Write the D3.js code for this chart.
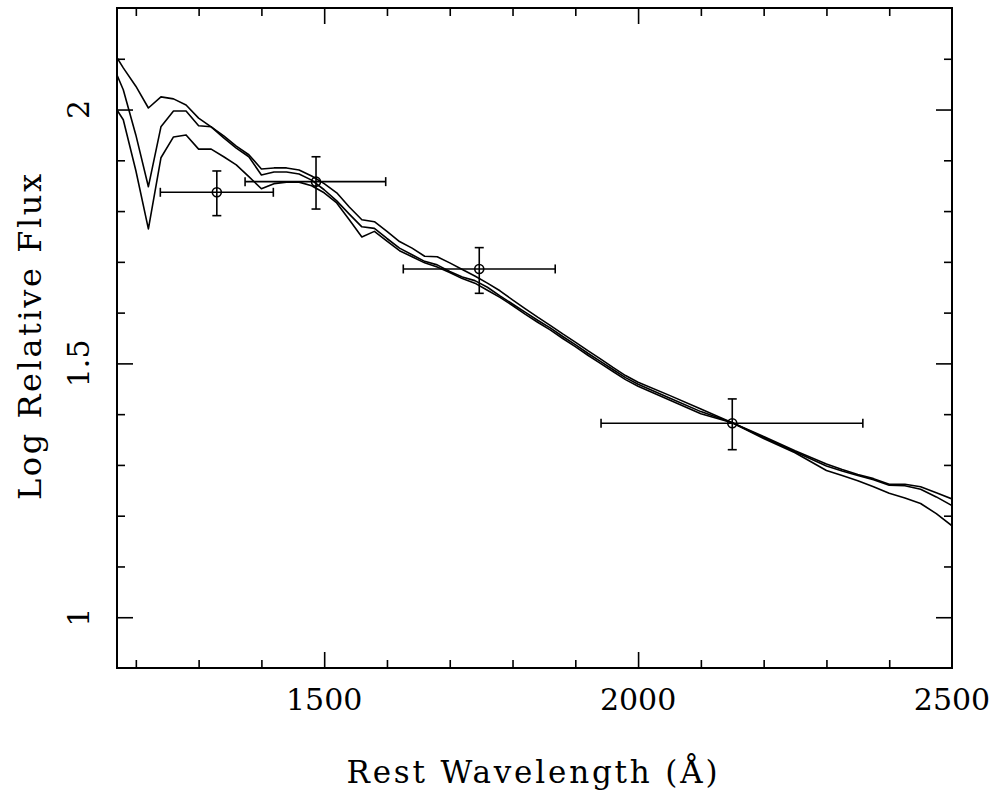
<!DOCTYPE html>
<html>
<head>
<meta charset="utf-8">
<script src="https://d3js.org/d3.v7.min.js"></script>
<style>
  body { margin: 0; background: #fff; }
  svg { display: block; }
  text { font-family: "DejaVu Serif", "Liberation Serif", serif; fill: #000; }
</style>
</head>
<body>
<div id="chart"></div>
<script>
// wavelength grid (Angstrom) shared by the three model curves
const wavelength = [1170, 1180, 1200, 1220, 1240, 1260, 1280, 1300, 1320, 1340, 1360, 1380,
  1400, 1420, 1440, 1460, 1480, 1500, 1520, 1540, 1560, 1580, 1600, 1620, 1640, 1660, 1680,
  1700, 1720, 1740, 1760, 1780, 1800, 1820, 1840, 1860, 1880, 1900, 1920, 1940, 1960, 1980,
  2000, 2050, 2100, 2150, 2200, 2250, 2300, 2325, 2350, 2375, 2400, 2425, 2450, 2475, 2500];

// log relative flux, three model spectra
const modelA = [2.102, 2.082, 2.046, 2.003, 2.025, 2.021, 2.009, 1.983, 1.966, 1.948, 1.928, 1.911,
  1.883, 1.885, 1.885, 1.881, 1.869, 1.854, 1.836, 1.808, 1.783, 1.779, 1.760, 1.740, 1.727, 1.711, 1.710,
  1.698, 1.685, 1.672, 1.658, 1.643, 1.625, 1.608, 1.591, 1.575, 1.558, 1.542, 1.525, 1.509, 1.492, 1.476,
  1.463, 1.437, 1.410, 1.383, 1.356, 1.328, 1.302, 1.291, 1.281, 1.273, 1.262, 1.262, 1.257, 1.245, 1.233];
const modelB = [2.068, 2.039, 1.950, 1.848, 1.966, 1.997, 1.997, 1.968, 1.966, 1.944, 1.924, 1.907,
  1.871, 1.877, 1.877, 1.873, 1.861, 1.842, 1.820, 1.794, 1.769, 1.766, 1.746, 1.727, 1.714, 1.701, 1.694,
  1.681, 1.670, 1.663, 1.650, 1.633, 1.617, 1.601, 1.585, 1.570, 1.553, 1.537, 1.520, 1.504, 1.488, 1.472,
  1.459, 1.432, 1.405, 1.383, 1.354, 1.326, 1.298, 1.288, 1.279, 1.271, 1.260, 1.259, 1.252, 1.237, 1.220];
const modelC = [1.999, 1.980, 1.880, 1.765, 1.905, 1.946, 1.950, 1.922, 1.922, 1.907, 1.891, 1.868,
  1.844, 1.854, 1.857, 1.857, 1.850, 1.836, 1.816, 1.783, 1.749, 1.760, 1.741, 1.722, 1.710, 1.698, 1.690,
  1.679, 1.667, 1.658, 1.644, 1.630, 1.614, 1.597, 1.581, 1.566, 1.549, 1.533, 1.516, 1.500, 1.484, 1.468,
  1.455, 1.428, 1.401, 1.383, 1.352, 1.324, 1.289, 1.279, 1.269, 1.257, 1.244, 1.235, 1.224, 1.204, 1.180];

// measured points with error bars
const ptWave  = [1329, 1487, 1747, 2150];
const ptWaveLo = [1239, 1374, 1626, 1941];
const ptWaveHi = [1419, 1598, 1868, 2358];
const ptFlux  = [1.837, 1.858, 1.686, 1.382];
const ptFluxLo = [1.791, 1.804, 1.638, 1.330];
const ptFluxHi = [1.879, 1.907, 1.728, 1.430];

const xMajor = [1500, 2000, 2500];
const xMinor = [1200, 1300, 1400, 1600, 1700, 1800, 1900, 2100, 2200, 2300, 2400];
const yMajor = [1, 1.5, 2];
const yMinor = [1.1, 1.2, 1.3, 1.4, 1.6, 1.7, 1.8, 1.9, 2.1];

const W = 1003, H = 799;
const margin = { top: 8, right: 51, bottom: 131, left: 117 };
const width = W - margin.left - margin.right;
const height = H - margin.top - margin.bottom;

const svg = d3.select("#chart").append("svg")
  .attr("width", W)
  .attr("height", H);

const g = svg.append("g")
  .attr("transform", `translate(${margin.left},${margin.top})`);

const x = d3.scaleLinear().domain([1170, 2500]).range([0, width]);
const y = d3.scaleLinear().domain([0.9, 2.2]).range([height, 0]);

svg.append("defs").append("clipPath").attr("id", "clip")
  .append("rect").attr("width", width).attr("height", height);

// tick marks on all four sides, pointing inward
function ticks(axis, vals, len, transform) {
  const a = g.append("g")
    .attr("transform", transform)
    .call(axis.tickValues(vals).tickSize(-len).tickFormat(""));
  a.select(".domain").remove();
  a.selectAll("line").attr("stroke", "#000").attr("stroke-width", 1.6);
  return a;
}
ticks(d3.axisBottom(x), xMinor, 8, `translate(0,${height})`);
ticks(d3.axisBottom(x), xMajor.slice(0, 2), 16, `translate(0,${height})`);
ticks(d3.axisTop(x), xMinor, 8, "translate(0,0)");
ticks(d3.axisTop(x), xMajor.slice(0, 2), 16, "translate(0,0)");
ticks(d3.axisLeft(y), yMinor, 8, "translate(0,0)");
ticks(d3.axisLeft(y), yMajor, 16, "translate(0,0)");
ticks(d3.axisRight(y), yMinor, 8, `translate(${width},0)`);
ticks(d3.axisRight(y), yMajor, 16, `translate(${width},0)`);

// tick labels
g.append("g").selectAll("text")
  .data(xMajor)
  .join("text")
  .attr("x", d => x(d))
  .attr("y", height + 42)
  .attr("text-anchor", "middle")
  .style("font-size", "30px")
  .text(d => d);

g.append("g").selectAll("text")
  .data(yMajor)
  .join("text")
  .attr("transform", d => `translate(-28,${y(d)}) rotate(-90)`)
  .attr("text-anchor", "middle")
  .style("font-size", "30px")
  .text(d => d);

// axis titles
svg.append("text")
  .attr("x", 532)
  .attr("y", 783)
  .attr("text-anchor", "middle")
  .attr("textLength", 371)
  .attr("lengthAdjust", "spacing")
  .style("font-size", "31px")
  .text("Rest Wavelength (Å)");

svg.append("text")
  .attr("transform", "translate(41,337) rotate(-90)")
  .attr("text-anchor", "middle")
  .attr("textLength", 326)
  .attr("lengthAdjust", "spacing")
  .style("font-size", "32px")
  .text("Log Relative Flux");

// model curves
const line = d3.line()
  .x((d, i) => x(wavelength[i]))
  .y(d => y(d));

const plot = g.append("g").attr("clip-path", "url(#clip)");
[modelA, modelB, modelC].forEach(s => {
  plot.append("path")
    .datum(s)
    .attr("fill", "none")
    .attr("stroke", "#000")
    .attr("stroke-width", 1.6)
    .attr("stroke-linejoin", "round")
    .attr("d", line);
});

// error bars
const pts = ptWave.map((w, i) => ({
  w, f: ptFlux[i], wLo: ptWaveLo[i], wHi: ptWaveHi[i], fLo: ptFluxLo[i], fHi: ptFluxHi[i]
}));
const cap = 4.5;
const eb = plot.append("g").attr("stroke", "#000").attr("stroke-width", 1.6);
pts.forEach(p => {
  eb.append("line").attr("x1", x(p.wLo)).attr("x2", x(p.wHi)).attr("y1", y(p.f)).attr("y2", y(p.f));
  eb.append("line").attr("x1", x(p.w)).attr("x2", x(p.w)).attr("y1", y(p.fLo)).attr("y2", y(p.fHi));
  eb.append("line").attr("x1", x(p.wLo)).attr("x2", x(p.wLo)).attr("y1", y(p.f) - cap).attr("y2", y(p.f) + cap);
  eb.append("line").attr("x1", x(p.wHi)).attr("x2", x(p.wHi)).attr("y1", y(p.f) - cap).attr("y2", y(p.f) + cap);
  eb.append("line").attr("x1", x(p.w) - cap).attr("x2", x(p.w) + cap).attr("y1", y(p.fLo)).attr("y2", y(p.fLo));
  eb.append("line").attr("x1", x(p.w) - cap).attr("x2", x(p.w) + cap).attr("y1", y(p.fHi)).attr("y2", y(p.fHi));
  eb.append("circle").attr("cx", x(p.w)).attr("cy", y(p.f)).attr("r", 4.5).attr("fill", "none");
});

// frame
g.append("rect")
  .attr("width", width)
  .attr("height", height)
  .attr("fill", "none")
  .attr("stroke", "#000")
  .attr("stroke-width", 2);
</script>
</body>
</html>
